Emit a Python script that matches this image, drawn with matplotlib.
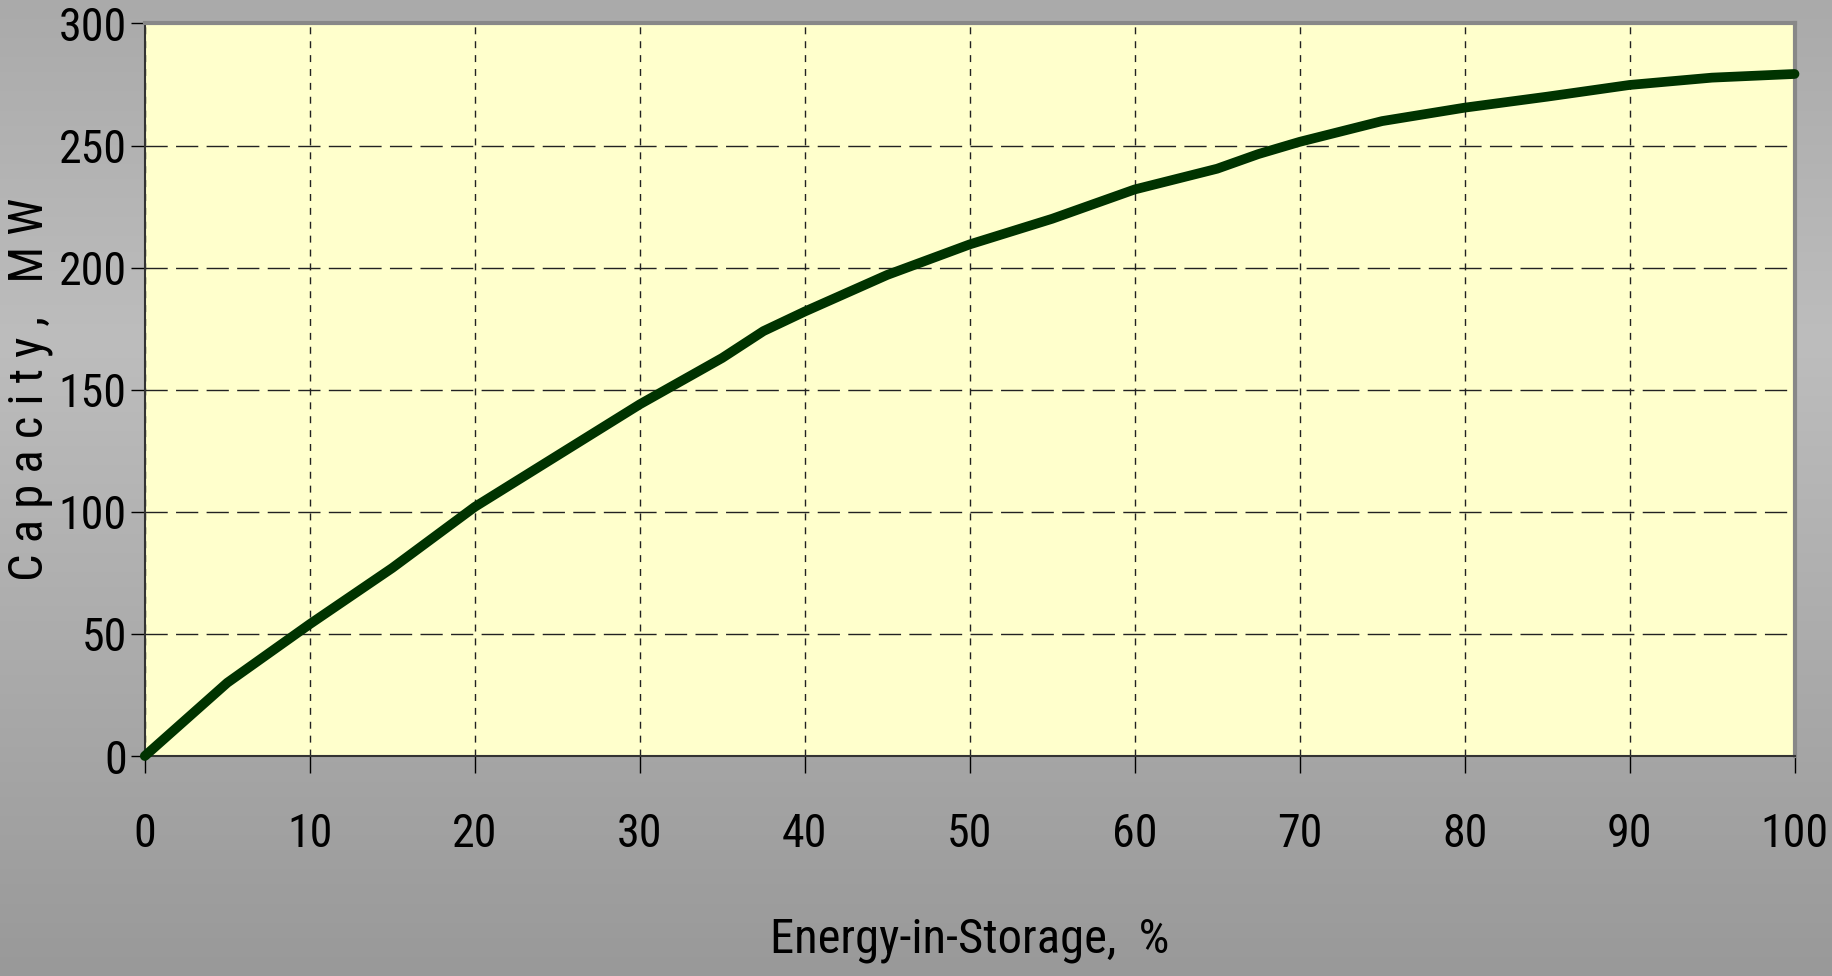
import numpy as np
import matplotlib
matplotlib.use('Agg')
import matplotlib.pyplot as plt
from matplotlib import font_manager
from matplotlib.colors import LinearSegmentedColormap

# data
energy = [0, 5, 10, 15, 20, 25, 30, 35, 37.5, 40, 45, 50, 55, 60, 65, 67.5, 70, 75, 80, 85, 90, 95, 100]
capacity = [0, 30, 54, 77, 102, 123, 144, 163, 174, 182, 197, 209.5, 220, 232, 240.5, 246.5, 251.5, 260, 265.5, 270, 274.8, 277.8, 279.3]
xticks = [0, 10, 20, 30, 40, 50, 60, 70, 80, 90, 100]
yticks = [0, 50, 100, 150, 200, 250, 300]

# pick a narrow font if one is around
names = set(f.name for f in font_manager.fontManager.ttflist)
family = 'DejaVu Sans'
for cand in ['Liberation Sans Narrow', 'Roboto Condensed', 'Open Sans Condensed', 'DejaVu Sans Condensed']:
    if cand in names:
        family = cand
        break
plt.rcParams['font.family'] = [family, 'DejaVu Sans']

fig = plt.figure(figsize=(18.33, 9.76), dpi=100)

# grey gradient background
bg = fig.add_axes([0, 0, 1, 1], zorder=-10)
cmap = LinearSegmentedColormap.from_list('bg', [(0.0, '#aaaaaa'), (0.35, '#bdbdbd'), (1.0, '#999999')])
grad = np.linspace(0, 1, 256).reshape(-1, 1)
bg.imshow(grad, aspect='auto', cmap=cmap, extent=[0, 1, 1, 0])
bg.axis('off')

ax = fig.add_axes([0.079, 0.2254, 0.9, 0.7506])
ax.set_facecolor('#ffffcc')

ax.plot(energy, capacity, color='#003300', linewidth=7, solid_capstyle='round', clip_on=False, zorder=5)

ax.set_xlim(0, 100)
ax.set_ylim(0, 300)
ax.set_xticks(xticks)
ax.set_yticks(yticks)

ax.yaxis.grid(True, color='#222222', linewidth=1, linestyle=(0, (16, 6)))
ax.xaxis.grid(True, color='#222222', linewidth=1, linestyle=(0, (5, 5)))

ax.tick_params(axis='x', direction='out', length=12, width=1, pad=28, labelsize=33, labelcolor='black')
ax.tick_params(axis='y', direction='out', length=10, width=1, pad=3, labelsize=33, labelcolor='black')

for side in ['left', 'bottom']:
    ax.spines[side].set_color('#333333')
    ax.spines[side].set_linewidth(1.5)
for side in ['top', 'right']:
    ax.spines[side].set_color('#888888')
    ax.spines[side].set_linewidth(3)

ax.set_xlabel('Energy-in-Storage,  %', fontsize=35, labelpad=44)
ax.set_ylabel('C a p a c i t y ,   M W', fontsize=35, labelpad=4)

fig.savefig('out.png', dpi=100)
